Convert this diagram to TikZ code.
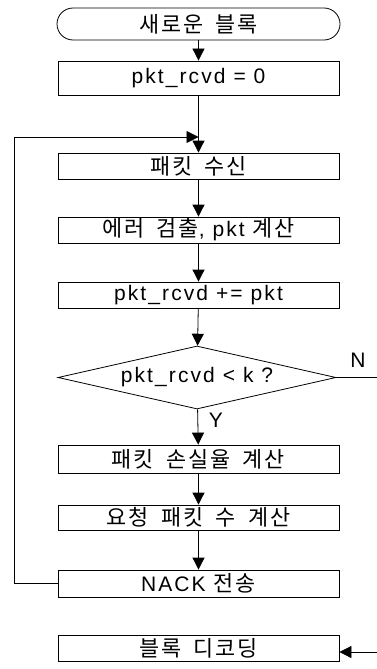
\documentclass[tikz,border=0pt]{standalone}
\usepackage{fontspec}
\setmainfont{Liberation Sans}[LetterSpace=10]
\newfontfamily\ko{Noto Sans CJK KR}[LetterSpace=9,WordSpace=1.8,Scale=1.04]
\usetikzlibrary{arrows.meta,shapes.geometric}
\begin{document}
\begin{tikzpicture}[x=1pt,y=-1pt,
  txt/.style={font=\fontsize{21}{25}\selectfont},
  box/.style={draw, line width=0.8pt, minimum width=281pt, inner sep=0pt, txt},
  term/.style={box, minimum width=283pt, rounded corners=16pt},
  dia/.style={draw, line width=0.8pt, diamond, minimum width=278pt, minimum height=63pt, inner sep=0pt},
  arr/.style={line width=0.8pt, -{Triangle[length=12pt,width=12pt]}},
  ln/.style={line width=0.8pt}]
\useasboundingbox (0,0) rectangle (377,669);
\node[term, minimum height=32pt] (t) at (198.5,24) {\ko 새로운 블록};
\node[box, minimum height=34pt] (b1) at (198.5,78) {pkt\_rcvd = 0};
\node[box, minimum height=26pt] (b2) at (198.5,166) {\ko 패킷 수신};
\node[box, minimum height=26pt] (b3) at (198.5,230) {{\ko 에러 검출}, pkt {\ko 계산}};
\node[box, minimum height=26pt] (b4) at (198.5,295) {pkt\_rcvd += pkt};
\node[dia, label={[txt]center:pkt\_rcvd < k ?}] (d) at (197,377.5) {};
\node[box, minimum height=28pt] (b5) at (198.5,459) {\ko 패킷 손실율 계산};
\node[box, minimum height=25pt] (b6) at (198.5,517.5) {\ko 요청 패킷 수 계산};
\node[box, minimum height=27pt] (b7) at (198.5,583.5) {NACK {\ko 전송}};
\node[box, minimum height=26pt] (b8) at (198.5,648) {\ko 블록 디코딩};
\coordinate (j) at (198.5,137);
\coordinate (nend) at (377,377.5);
\coordinate (dend) at (377,652);
\node[txt, anchor=center] (nlab) at (358,360) {N};
\node[txt, anchor=center] (ylab) at (216,420) {Y};
\draw[arr] (t) -- (b1);
\draw[arr] (b1) -- (b2);
\draw[arr] (b2) -- (b3);
\draw[arr] (b3) -- (b4);
\draw[arr] (b4) -- (d);
\draw[arr] (d) -- (b5);
\draw[arr] (b5) -- (b6);
\draw[arr] (b6) -- (b7);
\draw[arr] (b7.west) -- ++(-43,0) |- (j);
\draw[ln] (d.east) -- (nend);
\draw[arr] (dend) -- (b8.east |- dend);
\end{tikzpicture}
\end{document}
